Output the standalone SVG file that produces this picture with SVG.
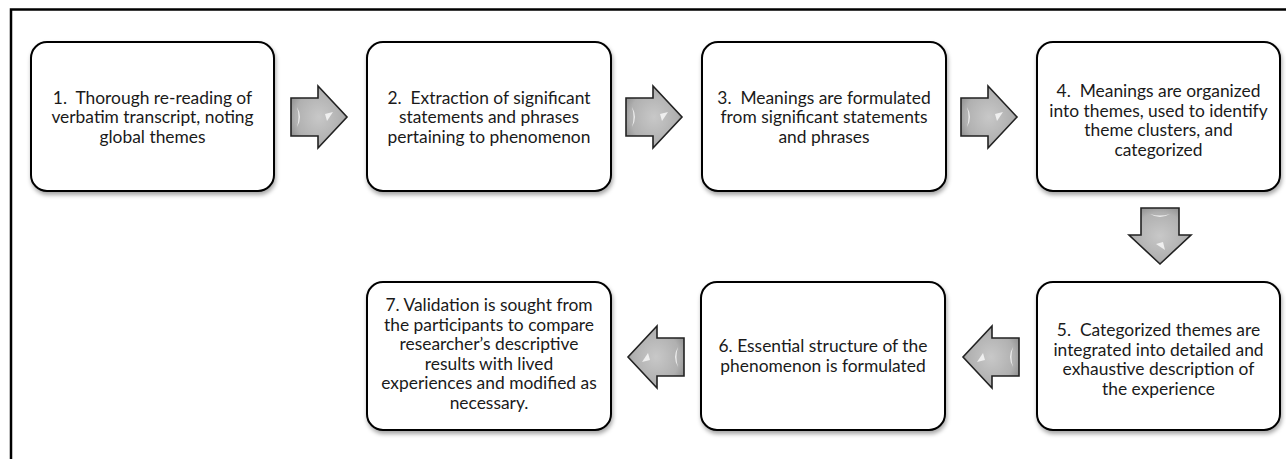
<svg xmlns="http://www.w3.org/2000/svg" width="1286" height="459" viewBox="0 0 1286 459">
<style>
.box{fill:#fff;stroke:#000;stroke-width:2;filter:url(#sh)}
.txt{font-family:Lato,"Liberation Sans",sans-serif;font-size:17.4px;fill:#1a1a1a;text-anchor:middle;white-space:pre}
.arr{fill:url(#ag);stroke:#222;stroke-width:1.6;stroke-linejoin:miter}
.hl{fill:#fff;opacity:0.75}
</style>
<defs>
<filter id="sh" x="-10%" y="-10%" width="125%" height="130%">
<feDropShadow dx="1" dy="3" stdDeviation="2" flood-color="#000" flood-opacity="0.35"/>
</filter>
<radialGradient id="ag" cx="50%" cy="50%" r="60%">
<stop offset="0" stop-color="#c8c8c8"/>
<stop offset="0.7" stop-color="#b0b0b0"/>
<stop offset="1" stop-color="#8c8c8c"/>
</radialGradient>
<path id="ra" d="M0,-19 L27,-19 L27,-31 L56,0 L27,31 L27,19 L0,19 Z"/>
</defs>
<rect x="11" y="9.5" width="1400" height="500" fill="none" stroke="#000" stroke-width="2.5"/>
<g id="connectors">
<g transform="translate(291,117)"><use href="#ra" class="arr"/><path class="hl" d="M6,-10 Q12,0 6,10 Q9,0 6,-10 Z"/><path class="hl" d="M34,-3 L42,-5 L36,4 Z"/></g>
<g transform="translate(626,117)"><use href="#ra" class="arr"/><path class="hl" d="M6,-10 Q12,0 6,10 Q9,0 6,-10 Z"/><path class="hl" d="M34,-3 L42,-5 L36,4 Z"/></g>
<g transform="translate(961,117)"><use href="#ra" class="arr"/><path class="hl" d="M6,-10 Q12,0 6,10 Q9,0 6,-10 Z"/><path class="hl" d="M34,-3 L42,-5 L36,4 Z"/></g>
<g transform="translate(1160,208) rotate(90)"><use href="#ra" class="arr"/><path class="hl" d="M6,-10 Q12,0 6,10 Q9,0 6,-10 Z"/><path class="hl" d="M34,-3 L42,-5 L36,4 Z"/></g>
<g transform="translate(1019,357) rotate(180)"><use href="#ra" class="arr"/><path class="hl" d="M6,-10 Q12,0 6,10 Q9,0 6,-10 Z"/><path class="hl" d="M34,-3 L42,-5 L36,4 Z"/></g>
<g transform="translate(684,357) rotate(180)"><use href="#ra" class="arr"/><path class="hl" d="M6,-10 Q12,0 6,10 Q9,0 6,-10 Z"/><path class="hl" d="M34,-3 L42,-5 L36,4 Z"/></g>
</g>
<g id="node1"><rect class="box" x="31" y="42" width="243" height="149" rx="16"/>
<text class="txt"><tspan x="152.5" y="103.5">1.  Thorough re-reading of</tspan><tspan x="152.5" y="123">verbatim transcript, noting</tspan><tspan x="152.5" y="142.5">global themes</tspan></text></g>
<g id="node2"><rect class="box" x="367" y="42" width="244" height="149" rx="16"/>
<text class="txt"><tspan x="489" y="103.5">2.  Extraction of significant</tspan><tspan x="489" y="123">statements and phrases</tspan><tspan x="489" y="142.5">pertaining to phenomenon</tspan></text></g>
<g id="node3"><rect class="box" x="702" y="42" width="244" height="149" rx="16"/>
<text class="txt"><tspan x="824" y="103.5">3.  Meanings are formulated</tspan><tspan x="824" y="123">from significant statements</tspan><tspan x="824" y="142.5">and phrases</tspan></text></g>
<g id="node4"><rect class="box" x="1037" y="42" width="243" height="149" rx="16"/>
<text class="txt"><tspan x="1158.5" y="97">4.  Meanings are organized</tspan><tspan x="1158.5" y="116.5">into themes, used to identify</tspan><tspan x="1158.5" y="136">theme clusters, and</tspan><tspan x="1158.5" y="155.5">categorized</tspan></text></g>
<g id="node5"><rect class="box" x="1037" y="282" width="243" height="148" rx="16"/>
<text class="txt"><tspan x="1158.5" y="336">5.  Categorized themes are</tspan><tspan x="1158.5" y="355.5">integrated into detailed and</tspan><tspan x="1158.5" y="375">exhaustive description of</tspan><tspan x="1158.5" y="394.5">the experience</tspan></text></g>
<g id="node6"><rect class="box" x="701" y="282" width="244" height="148" rx="16"/>
<text class="txt"><tspan x="823" y="352">6. Essential structure of the</tspan><tspan x="823" y="371.5">phenomenon is formulated</tspan></text></g>
<g id="node7"><rect class="box" x="367" y="282" width="244" height="148" rx="16"/>
<text class="txt"><tspan x="489" y="311">7. Validation is sought from</tspan><tspan x="489" y="330.5">the participants to compare</tspan><tspan x="489" y="350">researcher’s descriptive</tspan><tspan x="489" y="369.5">results with lived</tspan><tspan x="489" y="389">experiences and modified as</tspan><tspan x="489" y="408.5">necessary.</tspan></text></g>
</svg>
